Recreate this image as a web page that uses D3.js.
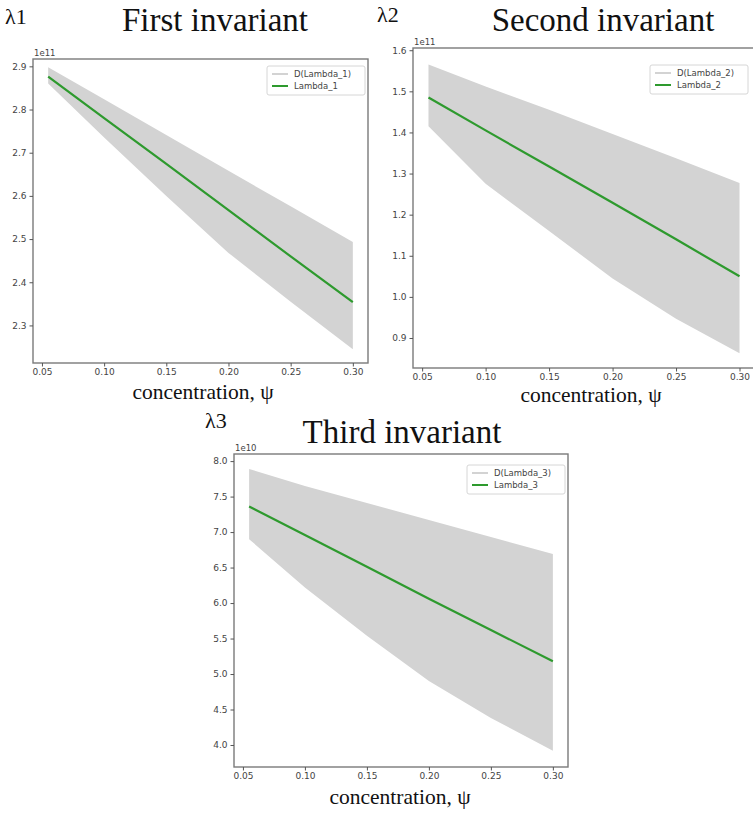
<!DOCTYPE html>
<html>
<head>
<meta charset="utf-8">
<script src="https://cdn.jsdelivr.net/npm/d3@7"></script>
<style>
  body { margin: 0; background: #fff; }
  svg { display: block; }
</style>
</head>
<body>
<div id="chart"></div>
<script>
// concentration psi (x) shared by all panels
const conc = [0.055, 0.10, 0.15, 0.20, 0.25, 0.30];
const xTicks = [0.05, 0.10, 0.15, 0.20, 0.25, 0.30];
const xDomain = [0.0428, 0.3122];

// First invariant (x 1e11)
const lambda1 = [2.876, 2.780, 2.674, 2.567, 2.460, 2.354];
const lambda1Hi = [2.898, 2.824, 2.741, 2.658, 2.576, 2.493];
const lambda1Lo = [2.860, 2.735, 2.600, 2.468, 2.355, 2.245];
const ticks1 = [2.3, 2.4, 2.5, 2.6, 2.7, 2.8, 2.9];
const yDomain1 = [2.213, 2.917];

// Second invariant (x 1e11)
const lambda2 = [1.485, 1.405, 1.317, 1.229, 1.140, 1.050];
const lambda2Hi = [1.565, 1.512, 1.455, 1.396, 1.337, 1.277];
const lambda2Lo = [1.415, 1.275, 1.160, 1.045, 0.947, 0.863];
const ticks2 = [0.9, 1.0, 1.1, 1.2, 1.3, 1.4, 1.5, 1.6];
const yDomain2 = [0.827, 1.6054];

// Third invariant (x 1e10)
const lambda3 = [7.36, 6.96, 6.51, 6.06, 5.62, 5.18];
const lambda3Hi = [7.89, 7.65, 7.41, 7.17, 6.93, 6.69];
const lambda3Lo = [6.90, 6.22, 5.54, 4.90, 4.38, 3.92];
const ticks3 = [4.0, 4.5, 5.0, 5.5, 6.0, 6.5, 7.0, 7.5, 8.0];
const yDomain3 = [3.69, 8.10];

const W = 753, H = 814;
const serif = "'Liberation Serif', 'Times New Roman', 'DejaVu Serif', serif";
const sans = "'DejaVu Sans', sans-serif";
const bandColor = "#d3d3d3";
const lineColor = "#2e9a2e";

const svg = d3.select("#chart").append("svg")
    .attr("width", W).attr("height", H);

// un panneau = un graphique matplotlib
function drawPanel(p) {
    const g = svg.append("g");

    const x = d3.scaleLinear().domain(xDomain).range([p.left, p.right]);
    const y = d3.scaleLinear().domain(p.yDomain).range([p.bottom, p.top]);

    const rows = p.x.map((d, i) => ({ x: d, v: p.val[i], hi: p.hi[i], lo: p.lo[i] }));

    // bande
    g.append("path").datum(rows)
        .attr("d", d3.area().x(d => x(d.x)).y0(d => y(d.lo)).y1(d => y(d.hi)))
        .attr("fill", bandColor);

    // courbe
    g.append("path").datum(rows)
        .attr("d", d3.line().x(d => x(d.x)).y(d => y(d.v)))
        .attr("fill", "none").attr("stroke", lineColor).attr("stroke-width", 2.2);

    // cadre
    g.append("rect")
        .attr("x", p.left).attr("y", p.top)
        .attr("width", p.right - p.left).attr("height", p.bottom - p.top)
        .attr("fill", "none").attr("stroke", "#7a7a7a").attr("stroke-width", 1.4);

    // axes
    const ax = g.append("g").attr("transform", `translate(0,${p.bottom})`)
        .call(d3.axisBottom(x).tickValues(xTicks).tickFormat(d3.format(".2f")).tickSize(3.5).tickPadding(2.5));
    const ay = g.append("g").attr("transform", `translate(${p.left},0)`)
        .call(d3.axisLeft(y).tickValues(p.ticks).tickFormat(d3.format(".1f")).tickSize(3.5).tickPadding(3));
    [ax, ay].forEach(a => {
        a.select(".domain").remove();
        a.selectAll(".tick line").attr("stroke", "#555");
        a.selectAll(".tick text").attr("fill", "#444")
            .style("font-family", sans).style("font-size", "9px");
    });

    // exposant
    g.append("text").attr("x", p.left + 1).attr("y", p.top - 3)
        .text(p.exp).attr("fill", "#444")
        .style("font-family", sans).style("font-size", "8.5px");

    // titres
    g.append("text").attr("x", p.titleX).attr("y", p.titleY)
        .attr("text-anchor", "middle").text(p.title).attr("fill", "#111")
        .style("font-family", serif).style("font-size", "33px");
    g.append("text").attr("x", p.symX).attr("y", p.symY)
        .text(p.sym).attr("fill", "#111")
        .style("font-family", serif).style("font-size", "22px");
    g.append("text").attr("x", p.labelX).attr("y", p.labelY)
        .attr("text-anchor", "middle").text("concentration, \u03c8").attr("fill", "#111")
        .style("font-family", serif).style("font-size", "21.5px");

    // légende
    const lg = g.append("g").attr("transform", `translate(${p.legX},${p.legY})`);
    lg.append("rect").attr("width", 98).attr("height", 29).attr("rx", 2)
        .attr("fill", "#fff").attr("fill-opacity", 0.85)
        .attr("stroke", "#d6d6d6").attr("stroke-width", 1);
    [[p.bandName, bandColor], [p.lineName, lineColor]].forEach((e, i) => {
        const yy = 8 + i * 12;
        lg.append("line").attr("x1", 5).attr("x2", 21).attr("y1", yy).attr("y2", yy)
            .attr("stroke", e[1]).attr("stroke-width", 2);
        lg.append("text").attr("x", 27).attr("y", yy + 3).text(e[0]).attr("fill", "#444")
            .style("font-family", sans).style("font-size", "8.5px");
    });
}

drawPanel({
    x: conc, val: lambda1, hi: lambda1Hi, lo: lambda1Lo, ticks: ticks1, yDomain: yDomain1, exp: "1e11",
    left: 33, right: 368, top: 59, bottom: 363,
    title: "First invariant", titleX: 215, titleY: 31, sym: "\u03bb1", symX: 5, symY: 24,
    labelX: 203, labelY: 399, legX: 267, legY: 66,
    bandName: "D(Lambda_1)", lineName: "Lambda_1"
});
drawPanel({
    x: conc, val: lambda2, hi: lambda2Hi, lo: lambda2Lo, ticks: ticks2, yDomain: yDomain2, exp: "1e11",
    left: 413, right: 755, top: 48, bottom: 368,
    title: "Second invariant", titleX: 603, titleY: 31, sym: "\u03bb2", symX: 377, symY: 22,
    labelX: 591, labelY: 402, legX: 650, legY: 65,
    bandName: "D(Lambda_2)", lineName: "Lambda_2"
});
drawPanel({
    x: conc, val: lambda3, hi: lambda3Hi, lo: lambda3Lo, ticks: ticks3, yDomain: yDomain3, exp: "1e10",
    left: 234, right: 568, top: 454, bottom: 767,
    title: "Third invariant", titleX: 402, titleY: 443, sym: "\u03bb3", symX: 205, symY: 428,
    labelX: 400, labelY: 804, legX: 467, legY: 465,
    bandName: "D(Lambda_3)", lineName: "Lambda_3"
});
</script>
</body>
</html>
